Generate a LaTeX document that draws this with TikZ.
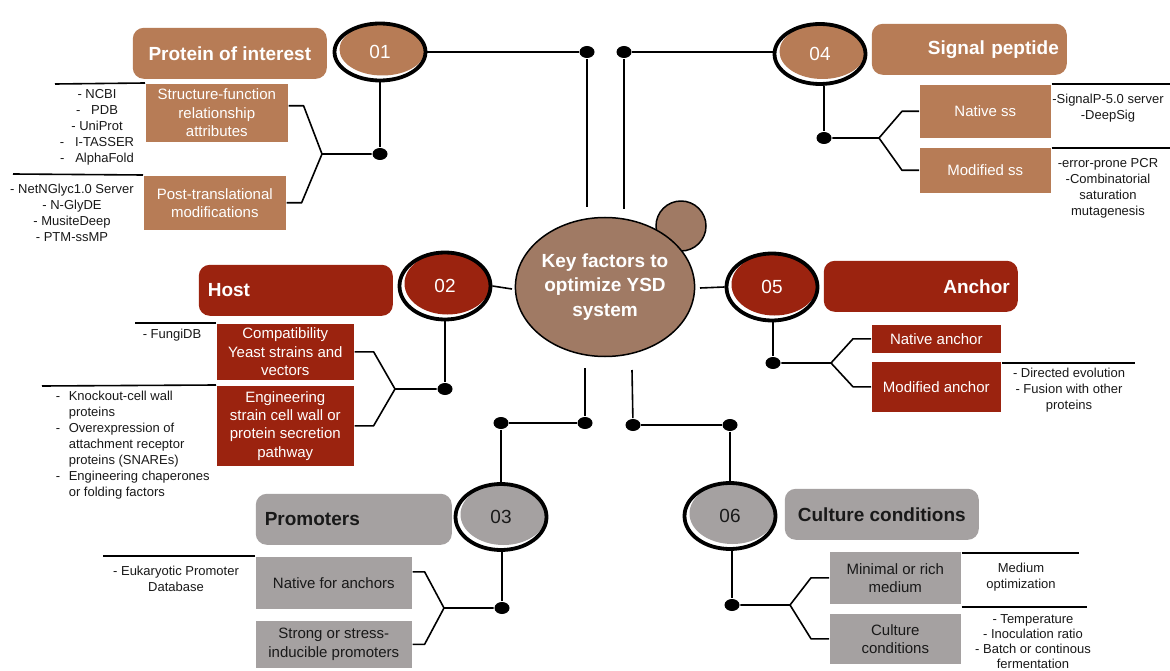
\documentclass[tikz,border=0pt]{standalone}
\usepackage{fontspec}
\setmainfont{Liberation Sans}
\usetikzlibrary{shapes.geometric,calc}
\definecolor{pbrown}{RGB}{183,124,86}
\definecolor{cbrown}{RGB}{160,122,100}
\definecolor{dred}{RGB}{155,35,15}
\definecolor{pgray}{RGB}{165,161,161}
\definecolor{ink}{RGB}{25,25,25}
\tikzset{
  numc/.style 2 args={ellipse, draw=black, line width=3.8pt, fill=white, minimum width=91pt, minimum height=#2, inner sep=0pt,
    font=\fontsize{19}{19}\selectfont,
    path picture={\fill[#1] let \p1=(path picture bounding box.north east), \p2=(path picture bounding box.south west) in ($(\p1)!0.5!(\p2)+(2.5pt,2.5pt)$) ellipse [x radius={(\x1-\x2)/2-2.5pt}, y radius={(\y1-\y2)/2-2.5pt}];}},
  hdr/.style={rounded corners=11pt, minimum height=51pt, inner sep=0pt, anchor=north west, font=\fontsize{19}{22}\selectfont\bfseries},
  sub/.style={inner sep=0pt, anchor=north west, align=center, font=\fontsize{15}{18.3}\selectfont},
  ann/.style={inner sep=0pt, align=center, text=ink, font=\fontsize{13}{16}\selectfont},
  dot/.style={ellipse, fill=black, minimum width=15pt, minimum height=12pt, inner sep=0pt}
}
\begin{document}
\begin{tikzpicture}[x=1pt,y=-1pt,line width=1.6pt,line join=round]
\fill[white] (0,0) rectangle (1170,671);
\useasboundingbox (0,0) rectangle (1170,671);

% ---------- header boxes ----------
\node[hdr, fill=pbrown, text=white, minimum width=194pt] (hpoi) at (132,27) {Protein of interest};
\node[hdr, fill=pbrown, text=white, minimum width=195pt, text width=179pt, align=right] (hsp) at (871,23) {Signal peptide};
\node[hdr, fill=dred, text=white, minimum width=194pt, text width=176pt, align=left] (hhost) at (198,264) {Host};
\node[hdr, fill=dred, text=white, minimum width=194pt, text width=178pt, align=right] (hanc) at (823,260) {Anchor};
\node[hdr, fill=pgray, text=ink, minimum width=196pt, text width=178pt, align=left] (hprom) at (255,493) {Promoters};
\node[hdr, fill=pgray, text=ink, minimum width=194pt] (hcul) at (784,488) {Culture conditions};

% ---------- numbered circles ----------
\node[numc={pbrown}{57pt}, text=white] (c01) at (380,52) {01};
\node[numc={pbrown}{60pt}, text=white] (c04) at (820,54) {04};
\node[numc={dred}{67pt}, text=white] (c02) at (445,286) {02};
\node[numc={dred}{67pt}, text=white] (c05) at (772,287) {05};
\node[numc={pgray}{66pt}, text=ink] (c03) at (501,517) {03};
\node[numc={pgray}{66pt}, text=ink] (c06) at (730,516) {06};

% ---------- central cell ----------
\filldraw[fill=cbrown, draw=black, line width=1.5pt] (681,226) circle (25pt);
\node[ellipse, fill=cbrown, draw=black, line width=1.5pt, minimum width=174pt, minimum height=139pt, inner sep=0pt, align=center, text=white, font=\fontsize{19}{24.5}\selectfont\bfseries] (key) at (605,287) {Key factors to\\optimize YSD\\system};

% ---------- central connectors ----------
\node[dot] (d1) at (587,52) {};
\node[dot] (d2) at (624,52) {};
\coordinate (t1) at (587,207);
\coordinate (t2) at (624,209);
\draw (c01.east) -- (d1);
\draw (d1) -- (t1);
\draw (d2) -- (c04.west |- d2);
\draw (d2) -- (t2);
\coordinate (k1) at (512,289);
\coordinate (k2) at (700,288);
\draw (c02.east) -- (k1);
\draw (k2) -- (c05.west);
\coordinate (t3) at (585,368);
\node[dot] (d3) at (585,423) {};
\node[dot] (d4) at (501,423) {};
\draw (t3) -- (d3);
\draw (d3) -- (d4);
\draw (d4) -- (c03);
\coordinate (t4) at (632,370);
\node[dot] (d5) at (633,425) {};
\node[dot] (d6) at (730,425) {};
\draw (t4) -- (d5);
\draw (d5) -- (d6);
\draw (d6) -- (c06);

% ---------- 01 subtree ----------
\node[sub, fill=pbrown, text=white, minimum width=142pt, minimum height=58pt] (sf) at (145,83) {Structure-function\\relationship\\attributes};
\node[sub, fill=pbrown, text=white, minimum width=142pt, minimum height=54pt] (pt) at (143,175) {Post-translational\\modifications};
\node[dot] (d01) at (380,154) {};
\coordinate (j01) at (322,154);
\draw (c01) -- (d01);
\draw (d01) -- (j01) -- ([xshift=15pt,yshift=7pt]sf.east) -- ([yshift=7pt]sf.east);
\draw (j01) -- ([xshift=15pt]pt.east) -- (pt.east);
\coordinate (l1) at (55,84);
\draw (l1) -- (sf.north west);
\node[ann] (a1) at (97,127) {- NCBI\\-~~~PDB\\- UniProt\\-~~~I-TASSER\\-~~~AlphaFold};
\coordinate (l2) at (13,174);
\draw (l2) -- (pt.north west);
\node[ann] (a2) at (72,213) {- NetNGlyc1.0 Server\\- N-GlyDE\\- MusiteDeep\\- PTM-ssMP};

% ---------- 02 subtree ----------
\node[sub, fill=dred, text=white, minimum width=137pt, minimum height=56pt] (cy) at (216,323) {Compatibility\\Yeast strains and\\vectors};
\node[sub, fill=dred, text=white, minimum width=137pt, minimum height=80pt] (en) at (216,385) {Engineering\\strain cell wall or\\protein secretion\\pathway};
\node[dot] (d02) at (445,389) {};
\coordinate (j02) at (395,389);
\draw (c02) -- (d02);
\draw (d02) -- (j02) -- ([xshift=19pt]cy.east) -- (cy.east);
\draw (j02) -- ([xshift=19pt]en.east) -- (en.east);
\coordinate (l3) at (135,323);
\draw (l3) -- (cy.north west);
\node[ann, anchor=west] (a3) at (142,335) {- FungiDB};
\coordinate (l4) at (42,386);
\draw (l4) -- (en.north west);
\node[ann, anchor=west, align=left] (a4) at (55,445) {\makebox[13pt][l]{-}Knockout-cell wall\\
\hspace*{13pt}proteins\\
\makebox[13pt][l]{-}Overexpression of\\
\hspace*{13pt}attachment receptor\\
\hspace*{13pt}proteins (SNAREs)\\
\makebox[13pt][l]{-}Engineering chaperones\\
\hspace*{13pt}or folding factors};

% ---------- 03 subtree ----------
\node[sub, fill=pgray, text=ink, minimum width=156pt, minimum height=52pt] (nf) at (255,556) {Native for anchors};
\node[sub, fill=pgray, text=ink, minimum width=156pt, minimum height=47pt] (so) at (255,620) {Strong or stress-\\inducible promoters};
\node[dot] (d03) at (502,608) {};
\coordinate (j03) at (444,608);
\draw (d03) -- (d03 |- c03.south);
\draw (d03) -- (j03) -- ([xshift=12pt,yshift=11pt]nf.east) -- ([yshift=11pt]nf.east);
\draw (j03) -- ([xshift=12pt]so.east) -- (so.east);
\coordinate (l5) at (103,556);
\draw (l5) -- (nf.north west);
\node[ann] (a5) at (176,579) {- Eukaryotic Promoter\\Database};

% ---------- 04 subtree ----------
\node[sub, fill=pbrown, text=white, minimum width=131pt, minimum height=53pt] (ns) at (919,84) {Native ss};
\node[sub, fill=pbrown, text=white, minimum width=131pt, minimum height=45pt] (ms) at (919,147) {Modified ss};
\node[dot] (d04) at (824,138) {};
\coordinate (j04) at (879,138);
\draw (d04) -- (d04 |- c04.south);
\draw (d04) -- (j04) -- ([xshift=-17pt]ns.west) -- (ns.west);
\draw (j04) -- ([xshift=-17pt]ms.west) -- (ms.west);
\coordinate (l6) at (1170,84);
\draw (ns.north east) -- (l6);
\node[ann] (a6) at (1108,108) {-SignalP-5.0 server\\-DeepSig};
\coordinate (l7) at (1170,148);
\draw (ms.north east |- l7) -- (l7);
\node[ann] (a7) at (1108,188) {-error-prone PCR\\-Combinatorial\\saturation\\mutagenesis};

% ---------- 05 subtree ----------
\node[sub, fill=dred, text=white, minimum width=129pt, minimum height=28pt] (na) at (871,324) {Native anchor};
\node[sub, fill=dred, text=white, minimum width=129pt, minimum height=50pt] (ma) at (871,361) {Modified anchor};
\node[dot] (d05) at (773,363) {};
\coordinate (j05) at (831,363);
\draw (d05) -- (d05 |- c05.south);
\draw (d05) -- (j05) -- ([xshift=-18pt]na.west) -- (na.west);
\draw (j05) -- ([xshift=-18pt]ma.west) -- (ma.west);
\coordinate (l8) at (1135,363);
\draw (ma.north east |- l8) -- (l8);
\node[ann] (a8) at (1069,390) {- Directed evolution\\- Fusion with other\\proteins};

% ---------- 06 subtree ----------
\node[sub, fill=pgray, text=ink, minimum width=131pt, minimum height=52pt] (mr) at (829,551) {Minimal or rich\\medium};
\node[sub, fill=pgray, text=ink, minimum width=131pt, minimum height=50pt] (cc) at (829,613) {Culture\\conditions};
\node[dot] (d06) at (732,605) {};
\coordinate (j06) at (790,605);
\draw (d06) -- (d06 |- c06.south);
\draw (d06) -- (j06) -- ([xshift=-18pt]mr.west) -- (mr.west);
\draw (j06) -- ([xshift=-18pt]cc.west) -- (cc.west);
\coordinate (l9) at (1079,553);
\draw (mr.north east |- l9) -- (l9);
\node[ann] (a9) at (1021,577) {Medium\\optimization};
\coordinate (l10) at (1087,607);
\draw (cc.north east |- l10) -- (l10);
\node[ann, font=\fontsize{13}{15}\selectfont] (a10) at (1033,642) {- Temperature\\- Inoculation ratio\\- Batch or continous\\fermentation};
\end{tikzpicture}
\end{document}
